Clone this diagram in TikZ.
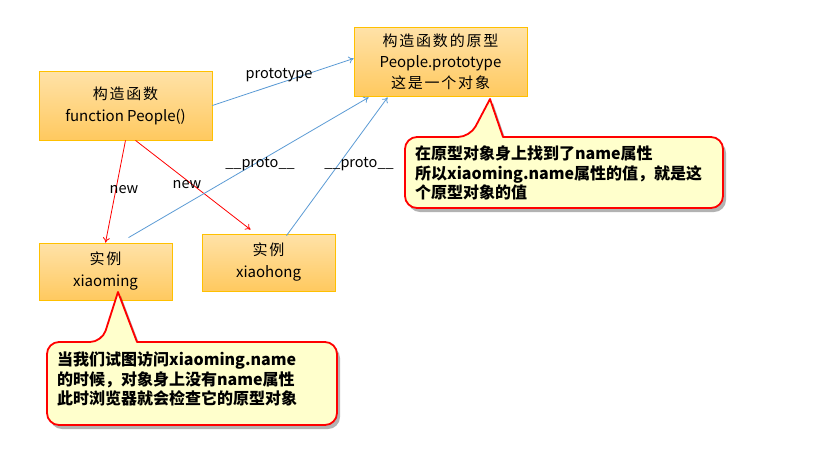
\documentclass[tikz,border=0pt]{standalone}
\usepackage{fontspec}
\setmainfont{Noto Sans CJK SC}
\newfontfamily\boxcjk[LetterSpace=12]{Noto Sans CJK SC}
\usetikzlibrary{calc,shadows,arrows.meta}
\definecolor{boxtop}{HTML}{FFE2A8}
\definecolor{boxbot}{HTML}{FFC95F}
\definecolor{boxline}{HTML}{FFC000}
\definecolor{protoblue}{HTML}{5B9BD5}
\definecolor{calloutfill}{HTML}{FFFFCC}
\tikzset{
  obox/.style={draw=boxline, line width=0.8pt, top color=boxtop, bottom color=boxbot,
    shading angle=0, align=center, inner sep=0pt, font=\fontsize{15}{22}\selectfont},
  protoarrow/.style={draw=protoblue, line width=0.8pt, -{To[length=5pt,width=7pt]}},
  newarrow/.style={draw=red, line width=0.8pt, -{To[length=5pt,width=7pt]}},
  elabel/.style={font=\fontsize{14.5}{16}\selectfont, inner sep=1pt},
  callout/.style={draw=red, line width=1.8pt, fill=calloutfill, line join=round,
    drop shadow={shadow xshift=3pt, shadow yshift=-4pt, opacity=0.3, fill=black}},
  ctext/.style={font=\fontsize{16}{19.5}\selectfont\bfseries, align=left, inner sep=0pt, anchor=west}
}
\begin{document}
\begin{tikzpicture}[x=1pt,y=-1pt]
\useasboundingbox (0,0) rectangle (824,467);
\fill[white] (0,0) rectangle (824,467);

\node[obox, minimum width=173pt, minimum height=69pt] (ctor) at (125.5,105.5)
  {{\boxcjk 构造函数}\\function People()};
\node[obox, minimum width=173pt, minimum height=69pt, font=\fontsize{15}{21}\selectfont] (proto) at (440.5,61.5)
  {{\boxcjk 构造函数的原型}\\People.prototype\\{\boxcjk 这是一个对象}};
\node[obox, minimum width=133pt, minimum height=57pt] (xm) at (105.5,271.5)
  {{\boxcjk 实例}\\xiaoming};
\node[obox, minimum width=133pt, minimum height=57pt] (xh) at (268.5,262.5)
  {{\boxcjk 实例}\\xiaohong};

% connectors
\draw[protoarrow] (ctor.east) -- ($(proto.west)+(0,-3)$);
\draw[newarrow] (ctor.south) -- (xm.north);
\draw[newarrow] ($(ctor.south)+(10,0)$) -- ($(xh.north)+(-18,-4)$);
\draw[protoarrow] ($(xm.north)+(23,-5)$) -- ($(proto.south west)+(15,1)$);
\draw[protoarrow] ($(xh.north)+(18,2)$) -- ($(proto.south west)+(34,1)$);

\node[elabel] (lproto) at (279,75) {prototype};
\node[elabel] (lnew1) at (124,190) {new};
\node[elabel] (lnew2) at (187,185) {new};
\node[elabel] (lp1) at (260,164) {\_\_proto\_\_};
\node[elabel] (lp2) at (359,164) {\_\_proto\_\_};

% callout 1
\draw[callout] (560,208) [rounded corners=12pt] -- (405,208) -- (405,137) -- (470,137)
  [sharp corners] -- (490,99) -- (503,137) [rounded corners=12pt] -- (723,137) -- (723,208) -- cycle;
\node[ctext] (c1) at (415,173) {在原型对象身上找到了name属性\\所以xiaoming.name属性的值，就是这\\个原型对象的值};

% callout 2
\draw[callout] (200,425) [rounded corners=12pt] -- (47,425) -- (47,342) -- (102,342)
  [sharp corners] -- (118,292) -- (137,342) [rounded corners=12pt] -- (337,342) -- (337,425) -- cycle;
\node[ctext] (c2) at (57,379) {当我们试图访问xiaoming.name\\的时候，对象身上没有name属性\\此时浏览器就会检查它的原型对象};
\end{tikzpicture}
\end{document}
